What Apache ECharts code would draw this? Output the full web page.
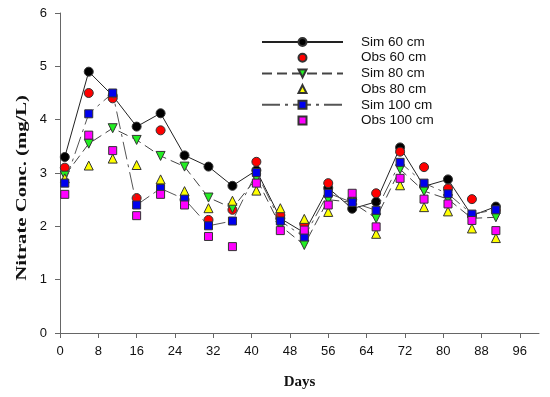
<!DOCTYPE html>
<html>
<head>
<meta charset="utf-8">
<script src="https://cdn.jsdelivr.net/npm/echarts@6/dist/echarts.min.js"></script>
<style>
html,body{margin:0;padding:0;background:#fff;}
#c{width:550px;height:397px;}
</style>
</head>
<body>
<div id="c"></div>
<script>
var days = [1, 6, 11, 16, 21, 26, 31, 36, 41, 46, 51, 56, 61, 66, 71, 76, 81, 86, 91];
var sim60 = [3.30, 4.90, 4.45, 3.87, 4.12, 3.33, 3.12, 2.76, 3.05, 2.15, 1.88, 2.72, 2.33, 2.46, 3.48, 2.75, 2.88, 2.20, 2.37];
var obs60 = [3.10, 4.50, 4.40, 2.53, 3.80, 2.50, 2.12, 2.31, 3.21, 2.21, 2.04, 2.81, 2.50, 2.62, 3.40, 3.11, 2.71, 2.51, 2.30];
var sim80 = [2.95, 3.55, 3.84, 3.62, 3.32, 3.12, 2.54, 2.34, 2.90, 2.01, 1.65, 2.50, 2.45, 2.15, 3.07, 2.66, 2.51, 2.15, 2.17];
var obs80 = [2.90, 3.14, 3.27, 3.15, 2.88, 2.66, 2.34, 2.48, 2.67, 2.34, 2.14, 2.27, 2.49, 1.86, 2.77, 2.36, 2.28, 1.96, 1.78];
var sim100 = [2.81, 4.11, 4.50, 2.40, 2.71, 2.51, 2.01, 2.10, 3.01, 2.10, 1.80, 2.62, 2.45, 2.30, 3.20, 2.81, 2.61, 2.23, 2.31];
var obs100 = [2.60, 3.71, 3.42, 2.20, 2.60, 2.40, 1.81, 1.62, 2.81, 1.92, 1.93, 2.40, 2.62, 1.99, 2.90, 2.51, 2.42, 2.11, 1.92];
var xTicks = [0, 8, 16, 24, 32, 40, 48, 56, 64, 72, 80, 88, 96];
var yTicks = [0, 1, 2, 3, 4, 5, 6];
var seriesNames = ['Sim 60 cm', 'Obs 60 cm', 'Sim 80 cm', 'Obs 80 cm', 'Sim 100 cm', 'Obs 100 cm'];
var xTitle = 'Days';
var yTitle = 'Nitrate Conc. (mg/L)';

function pairs(vals) {
  return days.map(function (d, i) { return [d, vals[i]]; });
}

var chart = echarts.init(document.getElementById('c'), null, {renderer: 'canvas'});
var border = {borderColor: '#333', borderWidth: 1};

function simSeries(name, vals, color, symbol, size, dash, lineColor, z) {
  return {
    name: name, type: 'line', data: pairs(vals), symbol: symbol, symbolSize: size,
    showAllSymbol: true, z: z, animation: false,
    itemStyle: Object.assign({color: color}, border),
    lineStyle: {color: lineColor, width: 1, type: dash}
  };
}
// observed points: markers only (no connecting line)
function obsSeries(name, vals, color, symbol, size, z) {
  return {
    name: name, type: 'line', data: pairs(vals), symbol: symbol, symbolSize: size,
    showAllSymbol: true, z: z, animation: false,
    itemStyle: Object.assign({color: color}, border),
    lineStyle: {width: 0, opacity: 0}
  };
}

var fontSans = 'Liberation Sans, Arial, sans-serif';
var fontSerif = 'Liberation Serif, Times New Roman, serif';

var option = {
  backgroundColor: '#fff',
  animation: false,
  grid: {left: 60, right: 11, top: 13, bottom: 64},
  legend: {
    orient: 'vertical', left: 256, top: 30,
    itemWidth: 81, itemHeight: 10, itemGap: 1.7,
    data: seriesNames,
    textStyle: {fontFamily: fontSans, fontSize: 13.5, color: '#111', padding: [0, 0, 0, 13], lineHeight: 14}
  },
  graphic: [{
    type: 'text', left: 15, top: 95,
    rotation: Math.PI / 2,
    scaleX: 1.38, scaleY: 1,
    style: {text: yTitle, font: 'bold 15px ' + fontSerif, fill: '#111'}
  }],
  xAxis: {
    type: 'value', min: 0, max: 100, interval: 8,
    name: xTitle, nameLocation: 'middle', nameGap: 42,
    nameTextStyle: {fontFamily: fontSerif, fontWeight: 'bold', fontSize: 15, color: '#111'},
    axisLine: {lineStyle: {color: '#666', width: 1}},
    axisTick: {show: true, length: 5, lineStyle: {color: '#666'}, customValues: xTicks},
    axisLabel: {fontFamily: fontSans, fontSize: 13, color: '#111', margin: 12, customValues: xTicks},
    splitLine: {show: false}
  },
  yAxis: {
    type: 'value', min: 0, max: 6, interval: 1,
    axisLine: {show: true, lineStyle: {color: '#666', width: 1}},
    axisTick: {show: true, length: 5, lineStyle: {color: '#666'}, customValues: yTicks},
    axisLabel: {fontFamily: fontSans, fontSize: 13, color: '#111', margin: 13, customValues: yTicks},
    splitLine: {show: false}
  },
  series: [
    simSeries(seriesNames[0], sim60, '#000', 'circle', 9, 'solid', '#222', 2),
    obsSeries(seriesNames[1], obs60, '#ff0000', 'circle', 9, 3),
    simSeries(seriesNames[2], sim80, '#22ee22', 'triangle', 9, [10, 5], '#444', 4),
    obsSeries(seriesNames[3], obs80, '#ffff00', 'triangle', 9, 5),
    simSeries(seriesNames[4], sim100, '#0000ee', 'rect', 8, [18, 5, 3, 5], '#555', 6),
    obsSeries(seriesNames[5], obs100, '#ff00ff', 'rect', 8, 7)
  ]
};
// Sim 80 uses down-pointing triangle
option.series[2].symbolRotate = 180;
chart.setOption(option);
</script>
</body>
</html>
